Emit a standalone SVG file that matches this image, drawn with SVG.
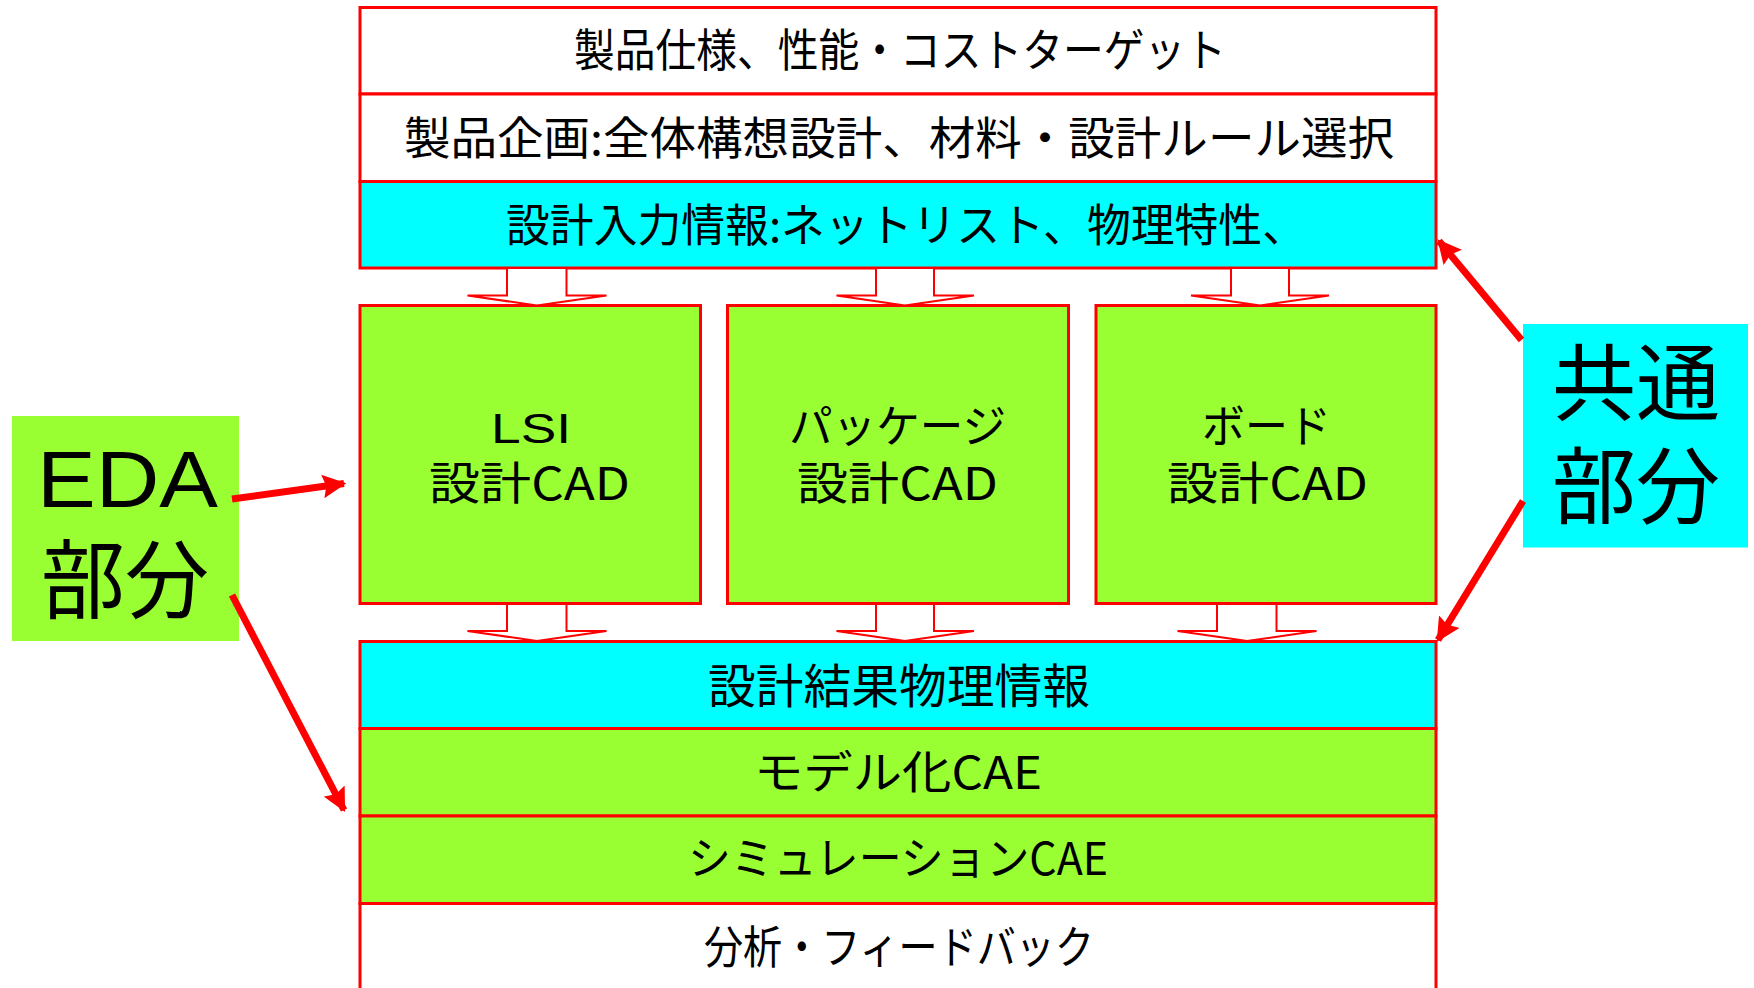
<svg xmlns="http://www.w3.org/2000/svg" width="1754" height="988" viewBox="0 0 1754 988">
<defs>
<style>
.frame{stroke:#FF0000;stroke-width:3}
.white{fill:#FFFFFF}
.cyan{fill:#00FFFF}
.green{fill:#99FF33}
.t{font-family:"Noto Sans CJK JP","Noto Sans CJK SC",sans-serif;fill:#000000}
.l{font-family:"Liberation Sans","Noto Sans CJK JP",sans-serif;fill:#000000}
.blk{fill:#FFFFFF;stroke:#FF0000;stroke-width:2;stroke-linejoin:miter}
.conn{stroke:#FF0000;stroke-width:7;fill:none}
</style>
<marker id="ah" viewBox="0 0 10 10" refX="9" refY="5" markerWidth="3.4" markerHeight="3.4" orient="auto" markerUnits="strokeWidth">
<path d="M0,0 L10,5 L0,10 L1.5,5 Z" fill="#FF0000"/>
</marker>
</defs>
<rect width="1754" height="988" fill="#FFFFFF"/>

<g id="row-spec">
<rect class="frame white" x="360" y="7.5" width="1076" height="86.5"/>
<text class="t" x="574" y="67" font-size="45" textLength="652" lengthAdjust="spacingAndGlyphs">製品仕様、性能・コストターゲット</text>
</g>
<g id="row-plan">
<rect class="frame white" x="360" y="94" width="1076" height="87.5"/>
<text class="t" x="404" y="155" font-size="45" textLength="990" lengthAdjust="spacingAndGlyphs">製品企画:全体構想設計、材料・設計ルール選択</text>
</g>
<g id="row-input">
<rect class="frame cyan" x="360" y="181.5" width="1076" height="86.5"/>
<text class="t" x="506" y="242" font-size="45" textLength="800" lengthAdjust="spacingAndGlyphs">設計入力情報:ネットリスト、物理特性、</text>
</g>

<g id="box-lsi">
<rect class="frame green" x="360" y="305.5" width="340.5" height="298"/>
<text class="t" font-size="45"><tspan class="l" x="491" y="443" font-size="43" textLength="80" lengthAdjust="spacingAndGlyphs">LSI</tspan><tspan x="429" y="500" textLength="201" lengthAdjust="spacingAndGlyphs">設計CAD</tspan></text>
</g>
<g id="box-pkg">
<rect class="frame green" x="727.5" y="305.5" width="341" height="298"/>
<text class="t" font-size="45"><tspan x="789" y="443" textLength="217" lengthAdjust="spacingAndGlyphs">パッケージ</tspan><tspan x="797" y="500" textLength="201" lengthAdjust="spacingAndGlyphs">設計CAD</tspan></text>
</g>
<g id="box-board">
<rect class="frame green" x="1096" y="305.5" width="340" height="298"/>
<text class="t" font-size="45"><tspan x="1202" y="443" textLength="129" lengthAdjust="spacingAndGlyphs">ボード</tspan><tspan x="1167" y="500" textLength="201" lengthAdjust="spacingAndGlyphs">設計CAD</tspan></text>
</g>

<g id="row-result">
<rect class="frame cyan" x="360" y="641.5" width="1076" height="87"/>
<text class="t" x="708" y="703" font-size="47" textLength="382" lengthAdjust="spacingAndGlyphs">設計結果物理情報</text>
</g>
<g id="row-model">
<rect class="frame green" x="360" y="728.5" width="1076" height="87.5"/>
<text class="t" x="754" y="789" font-size="45" textLength="288" lengthAdjust="spacingAndGlyphs">モデル化CAE</text>
</g>
<g id="row-sim">
<rect class="frame green" x="360" y="816" width="1076" height="87.5"/>
<text class="t" x="688" y="875" font-size="45" textLength="420" lengthAdjust="spacingAndGlyphs">シミュレーションCAE</text>
</g>
<g id="row-feedback">
<rect class="frame white" x="360" y="903.5" width="1076" height="90"/>
<text class="t" x="704" y="964" font-size="45" textLength="390" lengthAdjust="spacingAndGlyphs">分析・フィードバック</text>
</g>

<g id="eda">
<rect class="green" x="12" y="416" width="227" height="225"/>
<text class="t" font-size="86"><tspan class="l" x="37" y="507" font-size="80" textLength="181" lengthAdjust="spacingAndGlyphs">EDA</tspan><tspan x="41" y="612" textLength="168" lengthAdjust="spacingAndGlyphs">部分</tspan></text>
</g>
<g id="common">
<rect class="cyan" x="1523" y="324" width="225" height="223.5"/>
<text class="t" font-size="84"><tspan x="1552" y="414" textLength="168" lengthAdjust="spacingAndGlyphs">共通</tspan><tspan x="1552" y="517" textLength="168" lengthAdjust="spacingAndGlyphs">部分</tspan></text>
</g>

<g id="connectors">
<path class="blk" d="M507,269 V295.5 H467.5 L537,305.5 L606.5,295.5 H566.5 V269"/>
<path class="blk" d="M876,269 V295.5 H836.5 L905,305.5 L974,295.5 H934 V269"/>
<path class="blk" d="M1231,269 V295.5 H1191 L1260,305.5 L1329,295.5 H1289 V269"/>
<path class="blk" d="M507,605 V631 H467.5 L537,641 L606.5,631 H566.5 V605"/>
<path class="blk" d="M876,605 V631 H836.5 L905,641 L974,631 H934 V605"/>
<path class="blk" d="M1217,605 V631 H1177.5 L1247,641 L1316.5,631 H1276.5 V605"/>
<line class="conn" x1="232" y1="499" x2="344" y2="483.5" marker-end="url(#ah)"/>
<line class="conn" x1="232" y1="595" x2="344" y2="810" marker-end="url(#ah)"/>
<line class="conn" x1="1521.5" y1="340" x2="1439" y2="241" marker-end="url(#ah)"/>
<line class="conn" x1="1523" y1="501" x2="1438" y2="640" marker-end="url(#ah)"/>
</g>
</svg>
